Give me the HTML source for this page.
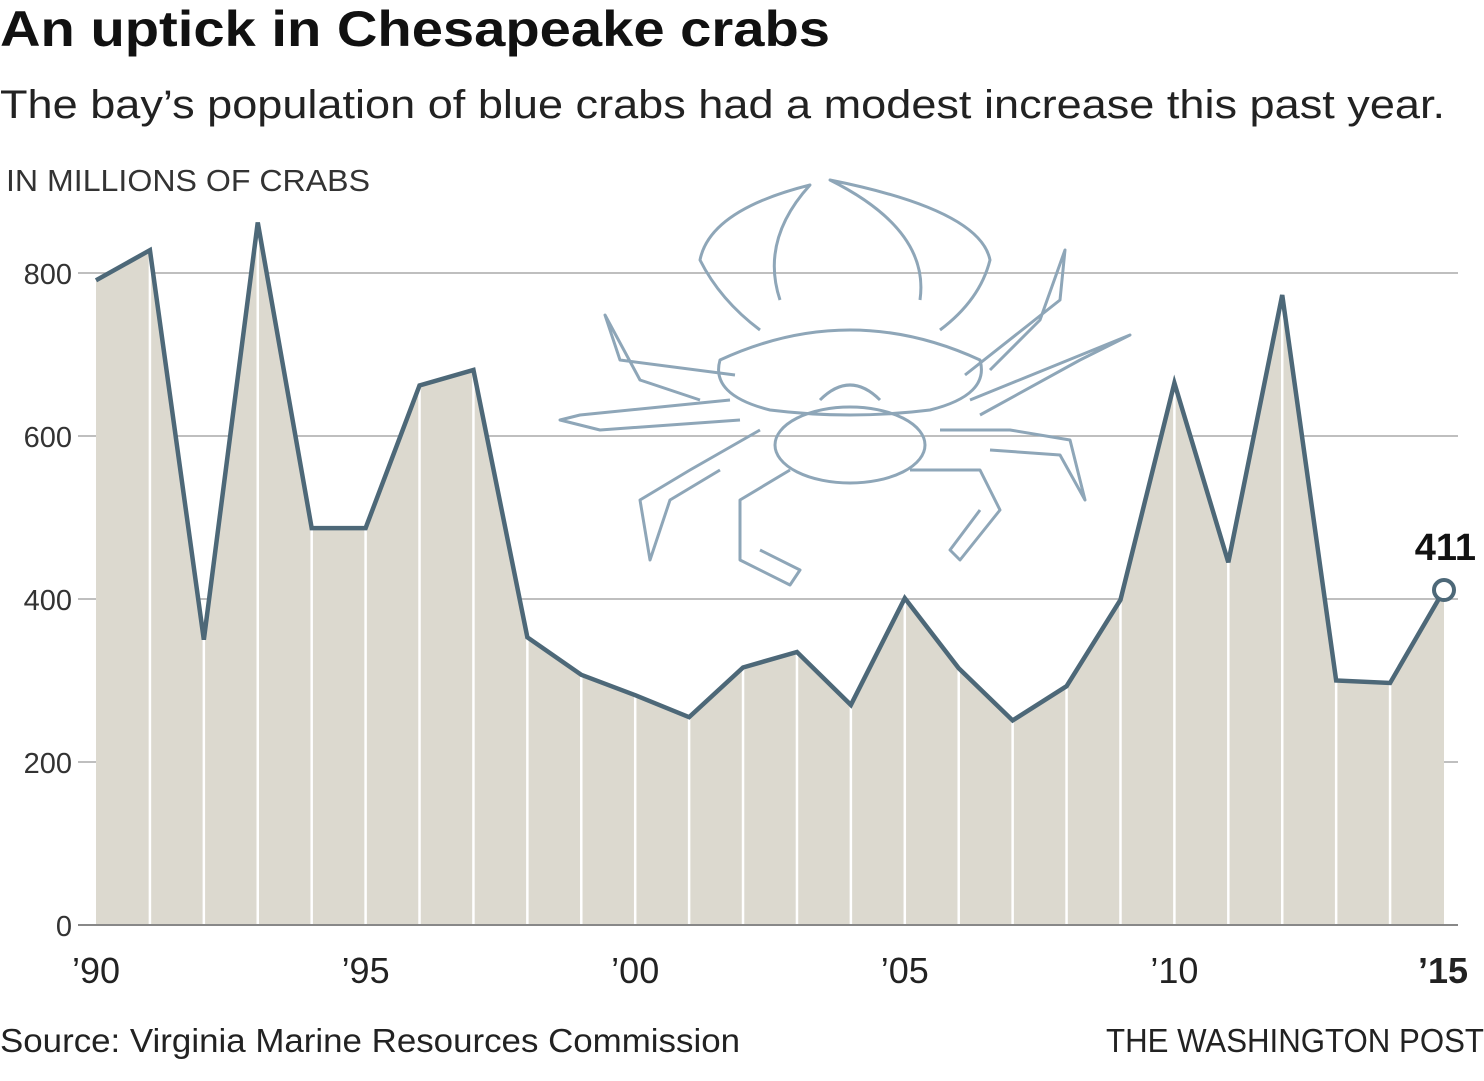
<!DOCTYPE html>
<html><head><meta charset="utf-8"><style>
body{margin:0;background:#fff;width:1484px;height:1076px;overflow:hidden;font-family:"Liberation Sans",sans-serif}
</style></head><body>
<svg width="1484" height="1076" xmlns="http://www.w3.org/2000/svg">
<text x="0" y="46" font-size="50" font-weight="bold" fill="#111" textLength="830" lengthAdjust="spacingAndGlyphs">An uptick in Chesapeake crabs</text>
<text x="0" y="118" font-size="40" fill="#222" textLength="1445" lengthAdjust="spacingAndGlyphs">The bay’s population of blue crabs had a modest increase this past year.</text>
<text x="6" y="191" font-size="31" fill="#333" textLength="364" lengthAdjust="spacingAndGlyphs">IN MILLIONS OF CRABS</text>
<g id="grid"></g>
<g id="area"></g>
<g id="crab" fill="none" stroke="#8ea6b8" stroke-width="3" stroke-linejoin="round">
 <ellipse cx="850" cy="445" rx="75" ry="38"/>
 <path d="M720 360 Q850 300 980 360 Q990 395 930 410 Q850 420 770 410 Q710 395 720 360Z"/>
 <path d="M760 330 Q720 300 700 260 Q710 210 810 185 Q760 240 780 300"/>
 <path d="M940 330 Q980 300 990 260 Q980 210 830 180 Q930 230 920 300"/>
 <path d="M735 375 L620 360 L605 315 L640 380 L700 400"/>
 <path d="M965 375 L1060 300 L1065 250 L1040 320 L990 370"/>
 <path d="M730 400 L580 415 L560 420 L600 430 L740 420"/>
 <path d="M970 400 L1130 335 L1080 360 L980 415"/>
 <path d="M760 430 L690 470 L640 500 L650 560 L670 500 L720 470"/>
 <path d="M940 430 L1010 430 L1070 440 L1085 500 L1060 455 L990 450"/>
 <path d="M790 470 L740 500 L740 560 L790 585 L800 570 L760 550"/>
 <path d="M910 470 L980 470 L1000 510 L960 560 L950 550 L980 510"/>
 <path d="M820 400 Q850 370 880 400"/>
</g>
<g id="axes"></g>
<text x="1106" y="1052" font-size="33" fill="#222" textLength="378" lengthAdjust="spacingAndGlyphs">THE WASHINGTON POST</text>
<text x="0" y="1052" font-size="33" fill="#222" textLength="740" lengthAdjust="spacingAndGlyphs">Source: Virginia Marine Resources Commission</text>
</svg>
<script>
const years=[1990,1991,1992,1993,1994,1995,1996,1997,1998,1999,2000,2001,2002,2003,2004,2005,2006,2007,2008,2009,2010,2011,2012,2013,2014,2015];
const values=[791,828,350,862,487,487,662,681,353,307,282,255,316,335,270,401,315,251,293,399,665,445,773,300,297,411];
const yTicks=[0,200,400,600,800];
const xTickYears=[1990,1995,2000,2005,2010,2015];
const xTickLabels=["’90","’95","’00","’05","’10","’15"];
const NS="http://www.w3.org/2000/svg";
const X=y=>96+(y-1990)*53.92;
const Y=v=>925-v*0.815;
function mk(t,a,p){const e=document.createElementNS(NS,t);for(const k in a)e.setAttribute(k,a[k]);p.appendChild(e);return e;}
const grid=document.getElementById('grid'),area=document.getElementById('area'),axes=document.getElementById('axes');
yTicks.forEach(v=>{
 if(v>0){const l=mk('line',{x1:78,x2:1458,y1:Y(v),y2:Y(v),stroke:'#aaa','stroke-width':1.5},grid);
 }
 const t=mk('text',{x:72,y:Y(v)+11,'font-size':29,fill:'#333','text-anchor':'end'},axes);t.textContent=v;
 
});
let d='M'+X(years[0])+' '+Y(0);
years.forEach((y,i)=>d+=' L'+X(y)+' '+Y(values[i]));
d+=' L'+X(years[years.length-1])+' '+Y(0)+'Z';
const a=mk('path',{d:d,fill:'#dcd9cf'},area);

years.forEach((y,i)=>{if(i>0&&i<years.length-1)mk('line',{x1:X(y),x2:X(y),y1:Y(0),y2:Y(values[i]),stroke:'#fff','stroke-width':2.5},area);});
const base=mk('line',{x1:78,x2:1458,y1:Y(0),y2:Y(0),stroke:'#888','stroke-width':2},area);

const ln=mk('polyline',{points:years.map((y,i)=>X(y)+','+Y(values[i])).join(' '),fill:'none',stroke:'#4d6878','stroke-width':4.5,'stroke-linejoin':'miter'},area);

const last=values.length-1;
const c=mk('circle',{cx:X(years[last]),cy:Y(values[last]),r:10,fill:'#fff',stroke:'#4d6878','stroke-width':4},area);

const lb=mk('text',{x:1476,y:Y(values[last])-30,'font-size':38,'font-weight':'bold',fill:'#111','text-anchor':'end'},area);
lb.textContent=values[last];
xTickYears.forEach((y,i)=>{
 const last=i===xTickYears.length-1;
 const t=mk('text',{x:last?1468:X(y),y:983,'font-size':36,fill:'#222','text-anchor':last?'end':'middle','font-weight':last?'bold':'normal'},axes);
 t.textContent=xTickLabels[i];
});
</script>
</body></html>
